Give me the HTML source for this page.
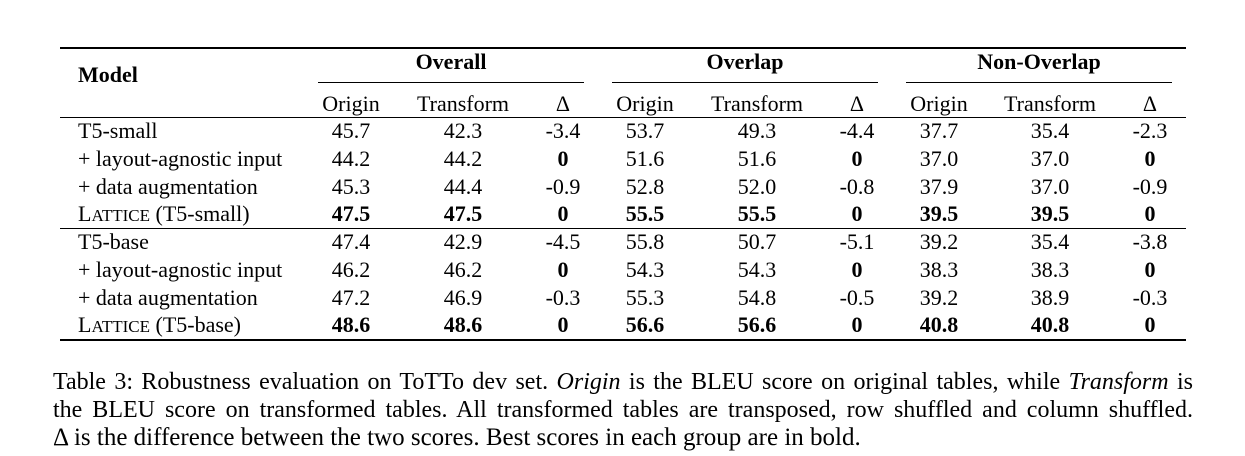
<!DOCTYPE html>
<html><head><meta charset="utf-8"><style>
body{margin:0;width:1245px;height:456px;background:#fff;position:relative;overflow:hidden;font-family:"Liberation Serif",serif;color:#000}
.t{position:absolute;font-size:22px;line-height:22px;white-space:nowrap}
.c{transform:translateX(-50%)}
.b{font-weight:bold}
.r{position:absolute;background:#000}
.cap{position:absolute;left:53px;width:1140px;font-size:24px;line-height:28px;white-space:nowrap}
.j{text-align:justify;text-align-last:justify;white-space:normal;height:28px;overflow:hidden}
.sc{font-size:17px}
</style></head><body>
<div class="r" style="left:60px;top:47px;width:1126px;height:2px"></div>
<div class="r" style="left:60px;top:117px;width:1126px;height:1px"></div>
<div class="r" style="left:60px;top:228px;width:1126px;height:1px"></div>
<div class="r" style="left:60px;top:339px;width:1126px;height:2px"></div>
<div class="r" style="left:318px;top:82px;width:266px;height:1px"></div>
<div class="r" style="left:612px;top:82px;width:266px;height:1px"></div>
<div class="r" style="left:906px;top:82px;width:266px;height:1px"></div>
<div class="t b" style="left:78px;top:64px">Model</div>
<div class="t b c" style="left:451px;top:51px">Overall</div>
<div class="t b c" style="left:745px;top:51px">Overlap</div>
<div class="t b c" style="left:1039px;top:51px">Non-Overlap</div>
<div id="tbl"></div>
<div class="cap j" style="top:368px">Table 3: Robustness evaluation on ToTTo dev set. <i>Origin</i> is the BLEU score on original tables, while <i>Transform</i> is</div>
<div class="cap j" style="top:396px">the BLEU score on transformed tables. All transformed tables are transposed, row shuffled and column shuffled.</div>
<div class="cap" style="top:424px;font-size:25px">Δ is the difference between the two scores. Best scores in each group are in bold.</div>
<script>
const colX=[351,463,563,645,757,857,939,1050,1150];
const sub=["Origin","Transform","Δ","Origin","Transform","Δ","Origin","Transform","Δ"];
const rowY=[120,148,176,203,231,259,287,314];
const labels=["T5-small","+ layout-agnostic input","+ data augmentation","L<span class='sc'>ATTICE</span> (T5-small)","T5-base","+ layout-agnostic input","+ data augmentation","L<span class='sc'>ATTICE</span> (T5-base)"];
const vals=[
["45.7","42.3","-3.4","53.7","49.3","-4.4","37.7","35.4","-2.3"],
["44.2","44.2","0","51.6","51.6","0","37.0","37.0","0"],
["45.3","44.4","-0.9","52.8","52.0","-0.8","37.9","37.0","-0.9"],
["47.5","47.5","0","55.5","55.5","0","39.5","39.5","0"],
["47.4","42.9","-4.5","55.8","50.7","-5.1","39.2","35.4","-3.8"],
["46.2","46.2","0","54.3","54.3","0","38.3","38.3","0"],
["47.2","46.9","-0.3","55.3","54.8","-0.5","39.2","38.9","-0.3"],
["48.6","48.6","0","56.6","56.6","0","40.8","40.8","0"]];
const tb=document.getElementById('tbl');
sub.forEach((s,i)=>{const d=document.createElement('div');d.className='t c';


d.style.left=colX[i]+'px';d.style.top='93px';d.textContent=s;tb.appendChild(d);});
labels.forEach((l,r)=>{const d=document.createElement('div');d.className='t';


d.style.left='78px';d.style.top=rowY[r]+'px';d.innerHTML=l;tb.appendChild(d);
vals[r].forEach((v,i)=>{const e=document.createElement('div');
const bold=(r%4==3)||v==="0";e.className='t c'+(bold?' b':'');


e.style.left=colX[i]+'px';e.style.top=rowY[r]+'px';e.textContent=v;tb.appendChild(e);});});
</script>
</body></html>
